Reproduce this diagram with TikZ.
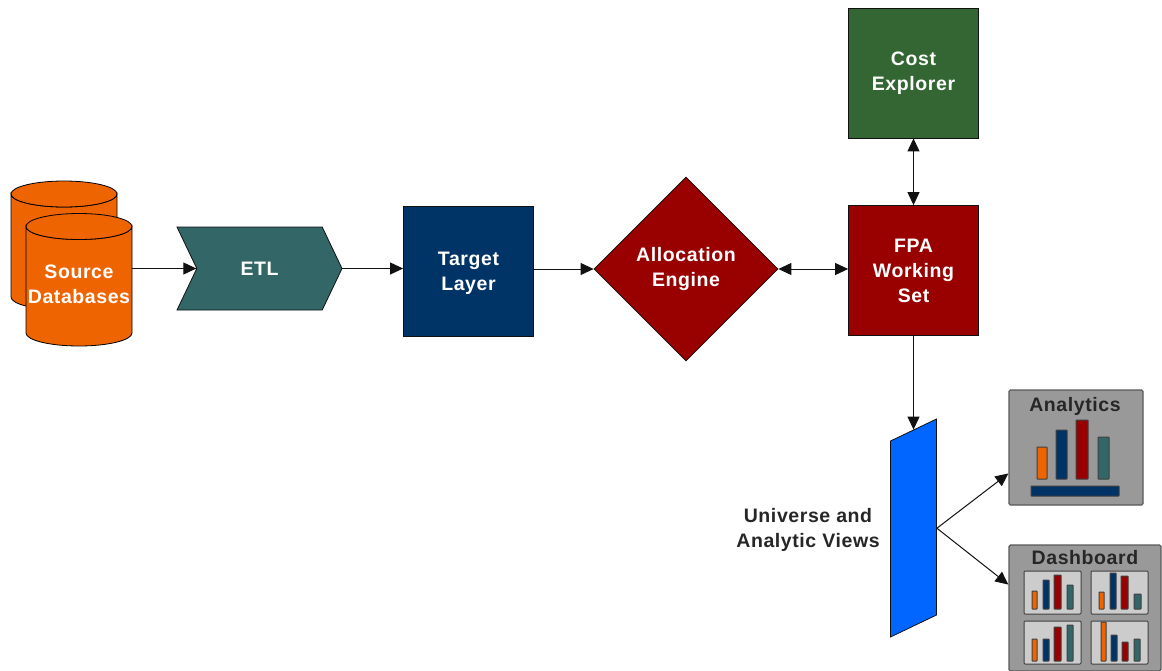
\documentclass[tikz,border=0pt]{standalone}
\usepackage{fontspec}
\setmainfont[LetterSpace=3]{Liberation Sans}
\usetikzlibrary{arrows.meta,shapes.geometric,shapes.symbols}
\tikzset{>={Triangle[width=12pt,length=13pt]}}
\definecolor{srcorange}{HTML}{EE6400}
\definecolor{etlteal}{HTML}{336666}
\definecolor{navyblue}{HTML}{003366}
\definecolor{engred}{HTML}{990000}
\definecolor{costgreen}{HTML}{336633}
\definecolor{viewblue}{HTML}{0066FF}
\definecolor{panelgray}{HTML}{999999}
\definecolor{insetgray}{HTML}{CCCCCC}
\definecolor{linegray}{HTML}{111111}
\tikzset{
  lbl/.style={font=\fontsize{19.5}{25}\selectfont\bfseries, align=center, inner sep=0pt},
  box/.style={draw=linegray, line width=0.8pt, lbl, text=white, minimum width=130pt, minimum height=130pt},
  panel/.style={draw=black!65, line width=1.2pt, fill=panelgray, rounded corners=1.5pt, inner sep=0pt},
  inset/.style={draw=black!75, line width=1pt, fill=insetgray, rounded corners=1pt},
  barbox/.style={draw=black!75, line width=1pt, rounded corners=0.5pt},
  conn/.style={draw=linegray, line width=1pt}
}
\begin{document}
\begin{tikzpicture}[x=1pt,y=-1pt]

  \newcommand\YMid{268.5}

  \useasboundingbox (0,0) rectangle (1162,670);

  % source databases
  \foreach \cx/\yt/\yb in {64/194/297, 79/226.5/333}{
    \draw[draw=black, line width=0.8pt, fill=srcorange] (\cx-53,\yt) -- (\cx-53,\yb)
      arc[start angle=180, end angle=0, x radius=53, y radius=13] -- (\cx+53,\yt)
      arc[start angle=0, end angle=180, x radius=53, y radius=13] -- cycle;
    \draw[draw=black, line width=0.8pt, fill=srcorange] (\cx,\yt) ellipse[x radius=53, y radius=13];
  }
  \node[lbl, text=white, minimum width=106pt, minimum height=133pt] (srcfront) at (79,284) {Source\\Databases};

  \node[signal, signal from=west, signal to=east, signal pointer angle=129, draw=linegray, line width=0.8pt,
    fill=etlteal, lbl, text=white, minimum width=165pt, minimum height=83pt] (etl) at (259.5,\YMid) {ETL};

  \node[box, fill=navyblue] (target) at (468.5,271) {};
  \node[lbl, text=white] (targettext) at (468.5,273) {Target\\Layer};

  \node[diamond, aspect=1, draw=linegray, line width=0.8pt, fill=engred, lbl, text=white,
    minimum width=184pt, minimum height=184pt] (engine) at (686,269) {Allocation\\Engine};

  \node[box, fill=engred] (fpa) at (913.5,270.5) {FPA\\Working\\Set};
  \node[box, fill=costgreen] (cost) at (913.5,73) {Cost\\Explorer};

  \node[draw=linegray, line width=0.8pt, fill=viewblue, yslant=0.478, inner sep=0pt,
    minimum width=46pt, minimum height=196pt] (views) at (913.5,528) {};
  \node[lbl, text=black!85] (viewstext) at (808,529.5) {Universe and\\Analytic Views};

  % analytics panel
  \node[panel, minimum width=134pt, minimum height=115pt] (analytics) at (1076,447.5) {};
  \node[lbl, text=black!85] (analyticstext) at (1075,406) {Analytics};
  \foreach \xl/\xr/\yt/\col in {1037/1047/447/srcorange, 1056/1067/430/navyblue, 1076/1088/420/engred, 1098/1109/437/etlteal}
    \draw[barbox, fill=\col] (\xl,\yt) rectangle (\xr,479);
  \draw[barbox, fill=navyblue] (1031,486) rectangle (1119,496);

  % dashboard panel
  \node[panel, minimum width=152pt, minimum height=126pt] (dashboard) at (1085,608) {};
  \node[lbl, text=black!85] (dashboardtext) at (1085,558) {Dashboard};
  \foreach \xl/\yt/\xr/\yb in {1024/571/1081/614, 1091/571/1148/614, 1024/621/1081/664, 1091/621/1148/664}
    \draw[inset] (\xl,\yt) rectangle (\xr,\yb);
  \foreach \xl/\xr/\yt/\yb/\col in {
    1032/1037/591/609/srcorange, 1043/1049/580/609/navyblue, 1054/1061/575/609/engred, 1067/1073/585/609/etlteal,
    1099/1104/592/609/srcorange, 1110/1116/573/609/navyblue, 1121/1128/576/609/engred, 1134/1141/594/609/etlteal,
    1032/1037/639/661/srcorange, 1043/1049/639/661/navyblue, 1054/1061/627/661/engred, 1067/1073/625/661/etlteal,
    1101/1106/622/661/srcorange, 1111/1117/635/661/navyblue, 1122/1128/642/661/engred, 1134/1140/639/661/etlteal}
    \draw[barbox, fill=\col] (\xl,\yt) rectangle (\xr,\yb);

  \draw[->, conn] (srcfront.east |- etl.west) -- (etl.west);
  \draw[->, conn] (etl.east) -- (target.west |- etl.east);
  \draw[->, conn] (target.east |- engine.west) -- (engine.west);
  \draw[<->, conn] (engine.east) -- (fpa.west |- engine.east);
  \draw[<->, conn] (fpa.north) -- (cost.south);
  \draw[->, conn] (fpa.south) -- (views.north);
  \draw[->, conn] (views.-26) -- (analytics.201);
  \draw[->, conn] (views.-26) -- (dashboard.163);

\end{tikzpicture}
\end{document}
